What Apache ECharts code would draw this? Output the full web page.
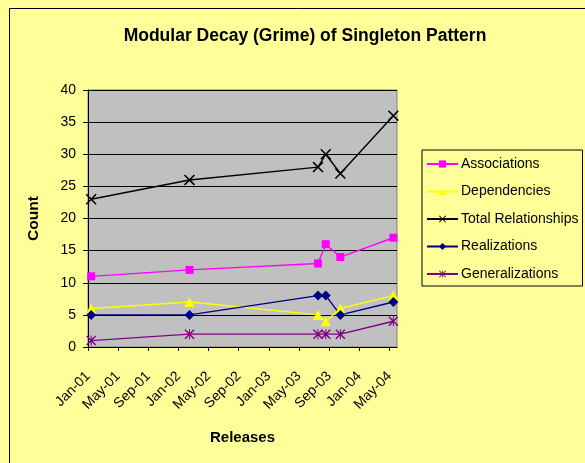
<!DOCTYPE html>
<html>
<head>
<meta charset="utf-8">
<script src="https://cdn.jsdelivr.net/npm/echarts@6/dist/echarts.min.js"></script>
<style>html,body{margin:0;padding:0;background:#FFFF99;}#c{width:585px;height:463px;}</style>
</head>
<body>
<div id="c"></div>
<script>
var releaseDates = ['2001-01-14','2002-02-14','2003-07-17','2003-08-18','2003-10-16','2004-05-17'];
var associations = [11, 12, 13, 16, 14, 17];
var dependencies = [6, 7, 5, 4, 6, 8];
var totalRelationships = [23, 26, 28, 30, 27, 36];
var realizations = [5, 5, 8, 8, 5, 7];
var generalizations = [1, 2, 2, 2, 2, 4];
var monthNames = ['Jan','Feb','Mar','Apr','May','Jun','Jul','Aug','Sep','Oct','Nov','Dec'];
var yTicks = [0,5,10,15,20,25,30,35,40];
var xTickMonths = [0,4,8,12,16,20,24,28,32,36,40]; // months since Jan 2001

function toMonths(s){
  var p = s.split('-').map(Number);
  var dim = new Date(p[0], p[1], 0).getDate();
  return (p[0]-2001)*12 + (p[1]-1) + (p[2]-1)/dim;
}
function monthLabel(m){
  m = Math.round(m);
  var y = 2001 + Math.floor(m/12);
  return monthNames[m%12] + '-' + String(y%100).padStart(2,'0');
}
var xs = releaseDates.map(toMonths);
function pts(v){ return v.map(function(y,i){ return [xs[i], y]; }); }

var X_PATH = 'path://M0,1L1,0L10,9L9,10Z M9,0L10,1L1,10L0,9Z';
var AST_PATH = 'path://M0,1L1,0L10,9L9,10Z M9,0L10,1L1,10L0,9Z M4.5,0L5.5,0L5.5,10L4.5,10Z';

function ser(name, data, color, symbol, size){
  return {
    name: name, type: 'line', data: pts(data),
    symbol: symbol, symbolSize: size, showSymbol: true,
    lineStyle: {color: color, width: 1.4},
    itemStyle: {color: color},
    emphasis: {disabled: true},
    animation: false
  };
}

var chart = echarts.init(document.getElementById('c'), null, {renderer:'canvas'});
chart.setOption({
  backgroundColor: '#FFFF99',
  animation: false,
  textStyle: {fontFamily: 'Liberation Sans, Arial, sans-serif'},
  title: {
    text: 'Modular Decay (Grime) of Singleton Pattern',
    left: 300, top: 22, textAlign: 'center',
    textStyle: {fontSize: 17.5, fontWeight: 'bold', color: '#000', fontFamily: 'Liberation Sans, Arial, sans-serif'}
  },
  graphic: [{
    type: 'rect', left: 7, top: 6, z: 100,
    shape: {width: 620, height: 520},
    style: {fill: 'none', stroke: '#000', lineWidth: 1}
  }],
  legend: {
    orient: 'vertical',
    left: 422, top: 150,
    padding: [7, 4, 5, 4],
    itemGap: 13.5,
    itemWidth: 31, itemHeight: 9,
    backgroundColor: '#FFFF99',
    borderColor: '#000', borderWidth: 1,
    textStyle: {fontSize: 14, color: '#000', padding: [0,0,0,-2]},
    data: ['Associations','Dependencies','Total Relationships','Realizations','Generalizations']
  },
  grid: {
    left: 88, right: 188, top: 90, bottom: 116,
    show: true, backgroundColor: '#C0C0C0', borderColor: '#808080', borderWidth: 1
  },
  xAxis: {
    type: 'value', min: 0, max: 41, interval: 4,
    name: 'Releases', nameLocation: 'middle', nameGap: 83,
    nameTextStyle: {fontSize: 15, fontWeight: 'bold', color: '#000'},
    axisLine: {show: true, lineStyle: {color: '#000', width: 1}},
    axisTick: {show: true, length: 4, lineStyle: {color: '#000'}, customValues: xTickMonths},
    axisLabel: {rotate: 45, fontSize: 14, color: '#000', margin: 27, customValues: xTickMonths,
      formatter: function(v){ return monthLabel(v); }},
    splitLine: {show: false}
  },
  yAxis: {
    type: 'value', min: 0, max: 40, interval: 5,
    name: 'Count', nameLocation: 'middle', nameGap: 46, nameRotate: 90,
    nameTextStyle: {fontSize: 15.5, fontWeight: 'bold', color: '#000'},
    axisLine: {show: true, lineStyle: {color: '#000', width: 1}},
    axisTick: {show: true, length: 5, lineStyle: {color: '#000'}},
    axisLabel: {fontSize: 14, color: '#000', margin: 12,
      formatter: function(v){ return yTicks.indexOf(v) >= 0 ? String(v) : ''; }},
    splitLine: {show: true, lineStyle: {color: '#000', width: 1}}
  },
  series: [
    ser('Associations', associations, '#FF00FF', 'rect', 8),
    ser('Dependencies', dependencies, '#FFFF00', 'triangle', 10),
    ser('Total Relationships', totalRelationships, '#000000', X_PATH, 11),
    ser('Realizations', realizations, '#000080', 'diamond', 10),
    ser('Generalizations', generalizations, '#800080', AST_PATH, 10)
  ]
});
</script>
</body>
</html>
